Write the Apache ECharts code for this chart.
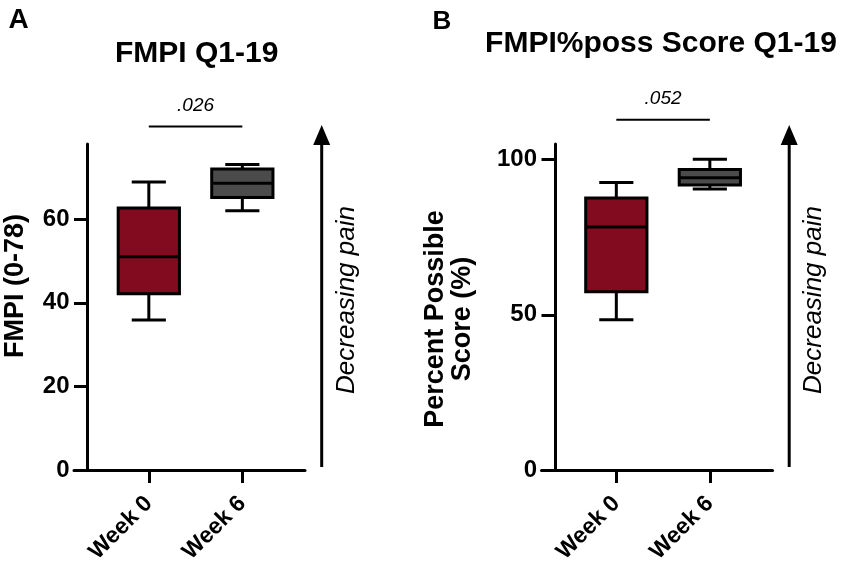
<!DOCTYPE html>
<html>
<head>
<meta charset="utf-8">
<script src="https://cdn.jsdelivr.net/npm/echarts@6/dist/echarts.min.js"></script>
<style>
html,body{margin:0;padding:0;background:#fff;}
#chart{width:851px;height:570px;}
</style>
</head>
<body>
<div id="chart"></div>
<script>
// ---- data ----
const categories = ['Week 0', 'Week 6'];
// [min, Q1, median, Q3, max]
const fmpiStats = [
  [35.9, 42.2, 51.0, 62.7, 68.9],
  [62.0, 65.2, 68.6, 72.0, 73.1]
];
const possStats = [
  [48.4, 57.4, 78.3, 87.6, 92.6],
  [90.5, 91.8, 94.1, 96.8, 100.1]
];
const fmpiTicks = [0, 20, 40, 60];
const possTicks = [0, 50, 100];
const fmpiP = '.026';
const possP = '.052';
const fmpiSigLevel = 82.2;
const possSigLevel = 112.8;

// ---- styles ----
const FONT = '"Liberation Sans", Arial, Helvetica, sans-serif';
const boxColors = ['#830b1f', '#4b4b4b'];
const LW = 3;
const BOX_W = 0.655; // in axis units
const CAP_W = 0.365;

const chart = echarts.init(document.getElementById('chart'), null, {renderer: 'canvas'});

function renderBox(params, api) {
  const x = api.value(0);
  const pMin = api.coord([x, api.value(1)]);
  const pQ1 = api.coord([x, api.value(2)]);
  const pMed = api.coord([x, api.value(3)]);
  const pQ3 = api.coord([x, api.value(4)]);
  const pMax = api.coord([x, api.value(5)]);
  const bw = api.size([BOX_W, 0])[0];
  const cw = api.size([CAP_W, 0])[0];
  const cx = pMin[0];
  const ls = {stroke: '#000', lineWidth: LW};
  return {
    type: 'group',
    children: [
      {type: 'line', shape: {x1: cx, y1: pMax[1], x2: cx, y2: pQ3[1]}, style: ls},
      {type: 'line', shape: {x1: cx, y1: pQ1[1], x2: cx, y2: pMin[1]}, style: ls},
      {type: 'line', shape: {x1: cx - cw / 2, y1: pMax[1], x2: cx + cw / 2, y2: pMax[1]}, style: ls},
      {type: 'line', shape: {x1: cx - cw / 2, y1: pMin[1], x2: cx + cw / 2, y2: pMin[1]}, style: ls},
      {type: 'rect', shape: {x: cx - bw / 2, y: pQ3[1], width: bw, height: pQ1[1] - pQ3[1]},
        style: {fill: boxColors[params.dataIndex], stroke: '#000', lineWidth: LW}},
      {type: 'line', shape: {x1: cx - bw / 2, y1: pMed[1], x2: cx + bw / 2, y2: pMed[1]}, style: ls}
    ]
  };
}

function toData(stats) {
  return stats.map((s, i) => [i].concat(s));
}

function xAxisCfg(gridIndex) {
  return {
    gridIndex, type: 'value', min: -0.8, max: 1.67,
    axisLine: {show: true, onZero: false, lineStyle: {color: '#000', width: LW}},
    axisTick: {show: true, customValues: [0, 1], length: 13, lineStyle: {color: '#000', width: LW}},
    axisLabel: {
      show: true, customValues: [0, 1], rotate: 45, margin: 30,
      formatter: v => categories[Math.round(v)] || '',
      fontFamily: FONT, fontSize: 23, fontWeight: 'bold', color: '#000'
    },
    splitLine: {show: false}
  };
}

function yAxisCfg(gridIndex, max, ticks) {
  return {
    gridIndex, type: 'value', min: 0, max: max, offset: -13.5,
    axisLine: {show: true, onZero: false, lineStyle: {color: '#000', width: LW}},
    axisTick: {show: true, customValues: ticks, length: 13.5, lineStyle: {color: '#000', width: LW}},
    axisLabel: {
      show: true, customValues: ticks, margin: 18,
      fontFamily: FONT, fontSize: 24, fontWeight: 'bold', color: '#000'
    },
    splitLine: {show: false}
  };
}

const option = {
  backgroundColor: '#fff',
  animation: false,
  grid: [
    {left: 74, top: 144, width: 231, height: 326},
    {left: 541.5, top: 144, width: 231, height: 326}
  ],
  xAxis: [xAxisCfg(0), xAxisCfg(1)],
  yAxis: [yAxisCfg(0, 78, fmpiTicks), yAxisCfg(1, 105, possTicks)],
  series: [
    {type: 'custom', xAxisIndex: 0, yAxisIndex: 0, renderItem: renderBox, data: toData(fmpiStats),
      encode: {x: 0, y: [1, 2, 3, 4, 5]}, clip: false},
    {type: 'custom', xAxisIndex: 1, yAxisIndex: 1, renderItem: renderBox, data: toData(possStats),
      encode: {x: 0, y: [1, 2, 3, 4, 5]}, clip: false}
  ]
};
chart.setOption(option);

// ---- annotations (positions derived from the axes) ----
function px(gi, x, y) { return chart.convertToPixel({gridIndex: gi}, [x, y]); }

const g = [];
function text(x, y, str, font, opts) {
  g.push(Object.assign({
    type: 'text', x, y,
    style: Object.assign({text: str, font: font, fill: '#000', align: 'center', verticalAlign: 'middle'}, (opts && opts.style) || {})
  }, (opts && opts.el) || {}));
}

// Panel letters & titles
text(18.5, 20, 'A', 'bold 28px ' + FONT);
text(442, 22, 'B', 'bold 26px ' + FONT);
text(196.7, 54, 'FMPI Q1-19', 'bold 30px ' + FONT);
text(661, 44, 'FMPI%poss Score Q1-19', 'bold 30px ' + FONT);

// Y axis names
text(16, 286, 'FMPI (0-78)', 'bold 27px ' + FONT, {el: {rotation: Math.PI / 2}});
text(449.5, 319, 'Percent Possible\nScore (%)', 'bold 27px ' + FONT, {el: {rotation: Math.PI / 2}, style: {lineHeight: 27}});

// significance bars
function sig(gi, level, label) {
  const a = px(gi, 0, level), b = px(gi, 1, level);
  g.push({type: 'line', shape: {x1: a[0], y1: a[1], x2: b[0], y2: b[1]}, style: {stroke: '#000', lineWidth: 2}});
  text((a[0] + b[0]) / 2, a[1] - 21, label, 'italic 19px ' + FONT);
}
sig(0, fmpiSigLevel, fmpiP);
sig(1, possSigLevel, possP);

// "Decreasing pain" arrows
function arrow(gi) {
  const bottom = px(gi, 1.67, 0);
  const ax = bottom[0] + 16.7;
  const yb = bottom[1] - 3;
  const yt = 125;
  g.push({type: 'line', shape: {x1: ax, y1: yb, x2: ax, y2: yt + 16}, style: {stroke: '#000', lineWidth: 3}});
  g.push({type: 'polygon', shape: {points: [[ax, yt], [ax - 8.5, yt + 20], [ax + 8.5, yt + 20]]}, style: {fill: '#000'}});
  text(ax + 25, 300, 'Decreasing pain', 'italic 26px ' + FONT, {el: {rotation: Math.PI / 2}});
}
arrow(0);
arrow(1);

chart.setOption({graphic: g});
</script>
</body>
</html>
